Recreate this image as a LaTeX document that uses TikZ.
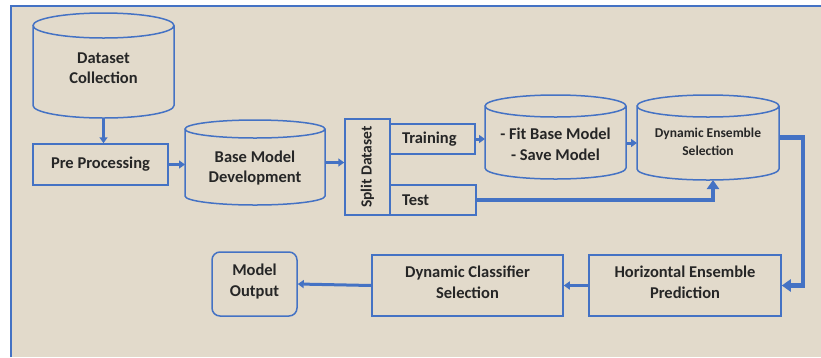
\documentclass[tikz,border=0pt]{standalone}
\usepackage{fontspec}
\setmainfont{Carlito}
\usetikzlibrary{arrows.meta,positioning,calc}
\definecolor{flowblue}{RGB}{68,114,196}
\definecolor{paper}{RGB}{226,218,203}
\definecolor{ink}{RGB}{38,38,38}

% outline of a data store round a named node: #1 node, #2 radius of the end ellipse (pt)
\newcommand{\cylinderframe}[2]{%
  \draw[flowblue, line width=1.5pt] let \p1=(#1.north west), \p2=(#1.south east), \n1={(\x2-\x1)/2} in
    ({(\x1+\x2)/2},{\y1-#2pt}) ellipse [x radius={\n1*1pt}, y radius=#2pt]
    (\x1,{\y1-#2pt}) -- (\x1,{\y2+#2pt})
    arc[start angle=180, end angle=360, x radius={\n1*1pt}, y radius=#2pt]
    -- (\x2,{\y1-#2pt});
}

\begin{document}
\begin{tikzpicture}[
    x=1pt, y=1pt,
    box/.style={draw=flowblue, line width=1.5pt, rectangle, font=\bfseries\fontsize{16.5}{21}\selectfont, text=ink, align=center},
    twoline/.style={text height=25pt, text depth=0pt},
    store/.style={rectangle, outer sep=0pt, text depth=0pt, font=\bfseries\fontsize{16.5}{20}\selectfont, text=ink, align=center},
    arr/.style={-{Triangle[length=6pt,width=8pt]}, line width=3pt, flowblue},
    bigarr/.style={-{Triangle[length=9pt,width=12pt]}, line width=4.5pt, flowblue},
]
    \useasboundingbox (0,0) rectangle (821,-357);
    \fill[paper] (11,-6) rectangle (821,-357);
    \draw[flowblue, line width=1.5pt] (11,-357) -- (11,-6) -- (821,-6);

    % first row
    \node[store, minimum width=141pt, minimum height=105pt, text height=35pt] (coll) at (103.5,-65.5) {Dataset\\Collection};
    \cylinderframe{coll}{12.5}
    \node[box, minimum width=135pt, minimum height=41pt] (prep) at (100.5,-164.5) {Pre Processing};
    \node[store, minimum width=140pt, minimum height=85pt, text height=39pt] (base) at (255,-162.5) {Base Model\\Development};
    \cylinderframe{base}{9}
    \node[box, minimum width=45pt, minimum height=96pt] (split) at (367.5,-167) {};
    \node[rotate=90, font=\bfseries\fontsize{15.5}{18}\selectfont, text=ink] (splitlab) at (split.center) {Split Dataset};
    \node[box, minimum width=85pt, minimum height=30pt, text width=61pt, align=left] (train) at (432.5,-139) {Training};
    \node[box, minimum width=86pt, minimum height=30pt, text width=62pt, align=left] (test) at (433,-200) {Test};
    \node[store, minimum width=141pt, minimum height=84pt, text height=46pt, font=\bfseries\fontsize{16.5}{21}\selectfont] (fit) at (555.5,-137) {- Fit Base Model\\- Save Model};
    \cylinderframe{fit}{11}
    \node[store, minimum width=142pt, minimum height=85pt, text height=35pt, font=\bfseries\fontsize{13.5}{18}\selectfont] (des) at (708,-137.5) {Dynamic Ensemble\\Selection};
    \cylinderframe{des}{11}

    % second row
    \node[box, twoline, minimum width=192pt, minimum height=61pt] (hep) at (685,-285.5) {Horizontal Ensemble\\Prediction};
    \node[box, twoline, minimum width=191pt, minimum height=61pt] (dcs) at (467.5,-285.5) {Dynamic Classifier\\Selection};
    \node[box, twoline, rounded corners=8pt, minimum width=85pt, minimum height=64pt] (out) at (254.5,-284) {Model\\Output};

    % connectors
    \draw[arr] (coll.south) -- (coll.south |- prep.north);
    \draw[arr] (prep.east) -- (prep.east -| base.west);
    \draw[arr] (base.east) -- (base.east -| split.west);
    \draw[arr] (train.east) -- (train.east -| fit.west);
    \draw[arr] ([yshift=-6pt]fit.east) -- ([yshift=-6pt]fit.east -| des.west);
    \draw[bigarr] (test.east) -| ([xshift=5pt]des.south);
    \draw[bigarr] (des.east) -- ++(24,0) |- (hep.east);
    \draw[arr] (hep.west) -- (dcs.east);
    \draw[arr] (dcs.west) -- (out.east);
\end{tikzpicture}
\end{document}
